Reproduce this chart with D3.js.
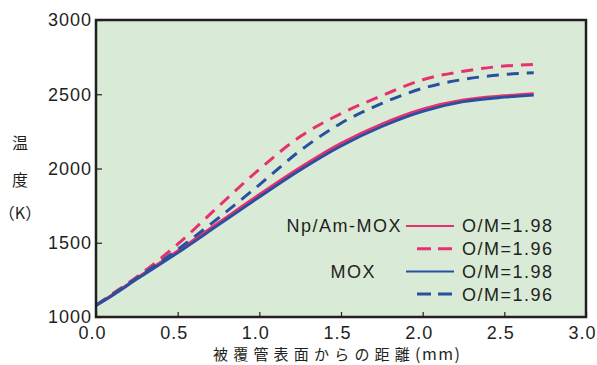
<!DOCTYPE html>
<html>
<head>
<meta charset="utf-8">
<script src="https://cdn.jsdelivr.net/npm/d3@7"></script>
<style>
  body { margin: 0; background: #fff; }
  text { font-family: "Liberation Sans", Arial, sans-serif; fill: #231f20; }
  .cjk { font-family: "Noto Sans CJK JP", sans-serif; }
</style>
</head>
<body>
<div id="chart"></div>
<script>
// data
const distance = [0, 0.1, 0.25, 0.5, 0.75, 1.0, 1.25, 1.5, 1.75, 2.0, 2.25, 2.5, 2.68]
const npamSolid = [1080, 1150, 1262, 1445, 1635, 1825, 2007, 2170, 2300, 2400, 2462, 2490, 2504]
const npamDashed = [1080, 1155, 1270, 1490, 1745, 1995, 2215, 2370, 2490, 2598, 2655, 2690, 2700]
const moxSolid = [1078, 1145, 1255, 1432, 1620, 1808, 1990, 2152, 2283, 2385, 2450, 2480, 2494]
const moxDashed = [1078, 1150, 1262, 1455, 1667, 1890, 2120, 2305, 2438, 2540, 2600, 2633, 2645]

const xTicks = [0, 0.5, 1.0, 1.5, 2.0, 2.5, 3.0]
const yTicks = [1000, 1500, 2000, 2500, 3000]

const legendGroups = ["Np/Am-MOX", "", "MOX", ""]
const legendLabels = ["O/M=1.98", "O/M=1.96", "O/M=1.98", "O/M=1.96"]

//márgenes
const width = 597
const height = 365
const margin = { top: 20, bottom: 48, right: 11, left: 96 }
const innerW = width - margin.left - margin.right
const innerH = height - margin.top - margin.bottom

const pink = "#e8306f"
const blue = "#2b4f9f"

const series = [
  { values: npamSolid, color: pink, dashed: false },
  { values: npamDashed, color: pink, dashed: true },
  { values: moxSolid, color: blue, dashed: false },
  { values: moxDashed, color: blue, dashed: true }
]

const svg = d3.select("#chart").append("svg").attr("width", width).attr("height", height)
const g = svg.append("g").attr("transform", `translate(${margin.left}, ${margin.top})`)

//escalas
const x = d3.scaleLinear().domain([0, 3]).range([0, innerW])
const y = d3.scaleLinear().domain([1000, 3000]).range([innerH, 0])

g.append("rect").attr("width", innerW).attr("height", innerH).attr("fill", "#d9ebd6")

//ejes
const xAxis = d3.axisBottom(x).tickValues(xTicks).tickFormat(d3.format(".1f")).tickSize(-5).tickPadding(8.5)
const yAxis = d3.axisLeft(y).tickValues(yTicks).tickFormat(d => d).tickSize(-6).tickPadding(6)

const xg = g.append("g").attr("transform", `translate(0, ${innerH})`).call(xAxis)
const yg = g.append("g").call(yAxis)
;[xg, yg].forEach(a => {
  a.select(".domain").remove()
  a.selectAll(".tick line").attr("stroke", "#231f20").attr("stroke-width", 1.2)
  a.selectAll(".tick text").attr("font-size", 18).attr("letter-spacing", 1).attr("fill", "#231f20")
    .style("font-family", "'Liberation Sans', Arial, sans-serif")
})
xg.selectAll(".tick text").attr("dx", -4).attr("dy", "0.75em")
yg.selectAll(".tick text").attr("dx", 2)

//líneas
const line = d3.line().x((d, i) => x(distance[i])).y(d => y(d)).curve(d3.curveMonotoneX)
series.forEach(s => {
  g.append("path")
    .datum(s.values)
    .attr("d", line)
    .attr("fill", "none")
    .attr("stroke", s.color)
    .attr("stroke-width", s.dashed ? 3 : 2.8)
    .attr("stroke-dasharray", s.dashed ? "12,8" : null)
})

//marco
g.append("rect").attr("width", innerW).attr("height", innerH)
  .attr("fill", "none").attr("stroke", "#231f20").attr("stroke-width", 2.5)

//leyenda
const leg = g.append("g").attr("transform", `translate(0, ${226 - margin.top})`)
series.forEach((s, i) => {
  const row = leg.append("g").attr("transform", `translate(0, ${i * 22.7})`)
  if (legendGroups[i]) {
    row.append("text").text(legendGroups[i])
      .attr("x", (i === 0 ? 402 : 376) - margin.left).attr("y", 0).attr("dy", "0.36em")
      .attr("text-anchor", "end").attr("font-size", 18).attr("letter-spacing", 1.5)
  }
  row.append("line")
    .attr("x1", (s.dashed ? 417 : 406) - margin.left).attr("x2", 454 - margin.left)
    .attr("y1", 0).attr("y2", 0)
    .attr("stroke", s.color).attr("stroke-width", s.dashed ? 3 : 2)
    .attr("stroke-dasharray", s.dashed ? "14,7" : null)
  row.append("text").text(legendLabels[i])
    .attr("x", 462 - margin.left).attr("y", 0).attr("dy", "0.36em")
    .attr("font-size", 18).attr("letter-spacing", 1.5)
})

//títulos
const yTitle = svg.append("g")
yTitle.append("text").attr("class", "cjk").text("温").attr("x", 20).attr("y", 143).attr("dy", "0.36em")
  .attr("text-anchor", "middle").attr("font-size", 16)
yTitle.append("text").attr("class", "cjk").text("度").attr("x", 20).attr("y", 180).attr("dy", "0.36em")
  .attr("text-anchor", "middle").attr("font-size", 16)
yTitle.append("text").attr("class", "cjk").text("（K）").attr("x", 20).attr("y", 213).attr("dy", "0.36em")
  .attr("text-anchor", "middle").attr("font-size", 16)

const xTitle = svg.append("text").attr("class", "cjk")
  .attr("x", 213).attr("y", 360.3).attr("font-size", 15)
xTitle.append("tspan").text("被覆管表面からの距離").attr("letter-spacing", 5.2)
xTitle.append("tspan").text("(mm)").attr("font-size", 16).attr("letter-spacing", 1.5)
</script>
</body>
</html>
